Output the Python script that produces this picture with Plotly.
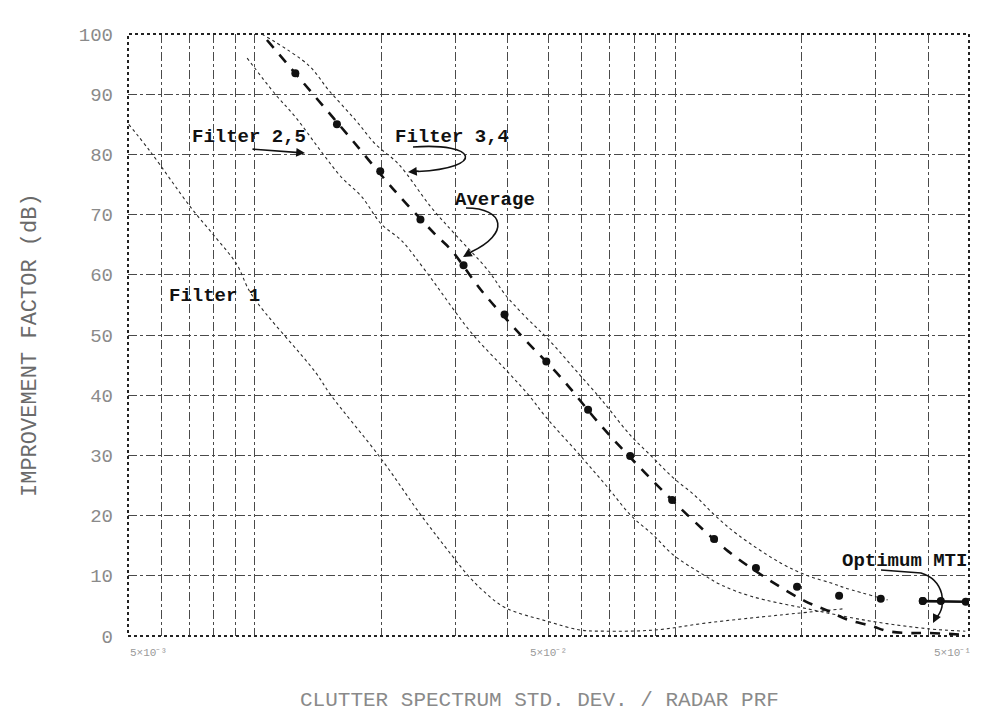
import math
import plotly.graph_objects as go

# ---------------- data ----------------
x_tick_vals = [0.005, 0.006, 0.007, 0.008, 0.009,
               0.01, 0.02, 0.03, 0.04, 0.05, 0.06, 0.07, 0.08, 0.09,
               0.1, 0.2, 0.3, 0.4, 0.5]
x_label_vals = [0.005, 0.05, 0.5]
x_label_text = ["5×10⁻³", "5×10⁻²", "5×10⁻¹"]
y_tick_vals = [0, 10, 20, 30, 40, 50, 60, 70, 80, 90, 100]
y_tick_text = ["0", "10", "20", "30", "40", "50", "60", "70", "80", "90", "100"]

filter1_x = [0.00502, 0.00566, 0.00705, 0.00808, 0.00906, 0.00984, 0.01396, 0.01515,
             0.01992, 0.02492, 0.02937, 0.03223, 0.03497, 0.03946, 0.04938, 0.05945,
             0.06817, 0.08955, 0.1198, 0.1785, 0.25]
filter1_y = [85, 80.4, 71.2, 66.2, 61.8, 56.7, 43.8, 40.1,
             29.6, 20.0, 13.5, 10.0, 7.5, 4.7, 2.5, 1.0,
             0.8, 1.0, 2.2, 3.5, 4.5]

filter25_x = [0.0096, 0.0112, 0.01251, 0.01443, 0.01609, 0.01796, 0.02003, 0.02234,
              0.02547, 0.03275, 0.03946, 0.04477, 0.04938, 0.05945, 0.06929, 0.07855,
              0.08864, 0.0989, 0.1166, 0.1286, 0.1516, 0.207, 0.29, 0.40, 0.49]
filter25_y = [96, 90, 86.2, 80.4, 76.2, 73.0, 68.4, 65.7,
              60.7, 50.4, 44.3, 40.1, 36.3, 30.0, 24.6, 20.0,
              16.8, 13.5, 10.2, 8.5, 6.6, 4.5, 2.5, 1.2, 0.8]

filter34_x = [0.0104, 0.01344, 0.01499, 0.01738, 0.01939, 0.02198, 0.02631, 0.0300,
              0.03595, 0.03946, 0.04426, 0.04992, 0.05945, 0.06561, 0.06929, 0.07816,
              0.08864, 0.0989, 0.1116, 0.1245, 0.1411, 0.1785, 0.207, 0.235, 0.2535, 0.32]
filter34_y = [100, 94.8, 90.7, 85.7, 81.7, 78.4, 71.2, 66.7,
              60.7, 56.7, 52.9, 49.3, 43.3, 39.9, 37.9, 33.4,
              29.6, 26.3, 23.3, 20.0, 16.8, 12.1, 10.0, 8.8, 8.0, 6.0]

dashed_x = [0.0107, 0.01366, 0.0170, 0.02139, 0.02691, 0.02937, 0.03462, 0.04307,
            0.05359, 0.06673, 0.08485, 0.1074, 0.1336, 0.1683, 0.2036, 0.2307,
            0.2576, 0.2922, 0.3205, 0.3575, 0.399, 0.49]
dashed_y = [99, 90.3, 82.5, 74.2, 66.7, 64.1, 57.4, 49.9,
            42.9, 34.9, 27.1, 20.0, 14.1, 9.2, 5.8, 4.2,
            2.7, 1.7, 0.8, 0.5, 0.5, 0.2]

average_x = [0.0125, 0.0157, 0.0199, 0.0248, 0.0314, 0.0393, 0.0494, 0.0621,
             0.0782, 0.0984, 0.1238, 0.1557, 0.1950, 0.2455, 0.3084, 0.3882]
average_y = [93.5, 85.0, 77.2, 69.2, 61.6, 53.4, 45.6, 37.6,
             29.9, 22.6, 16.1, 11.3, 8.2, 6.7, 6.2, 5.8]

optimum_x = [0.3882, 0.4285, 0.4912]
optimum_y = [5.8, 5.8, 5.7]

# ---------------- layout geometry ----------------
W, H = 981, 716
L, R, T, B = 120, 20, 26, 88
PW, PH = W - L - R, H - T - B
XMIN, XMAX = math.log10(0.005), math.log10(0.5)


def P(px, py):
    """pixel position -> paper coordinates (for labels / arrows only)"""
    return (px - L) / PW, (H - B - py) / PH


def path(cmds):
    out = []
    for c in cmds:
        if isinstance(c, str):
            out.append(c)
        else:
            x, y = P(*c)
            out.append(f"{x:.5f},{y:.5f}")
    return " ".join(out)


fig = go.Figure()

thin = dict(color="#2a2a2a", width=1.1, dash="dot")
fig.add_trace(go.Scatter(x=filter1_x, y=filter1_y, mode="lines", line=thin,
                         name="Filter 1", line_shape="spline"))
fig.add_trace(go.Scatter(x=filter25_x, y=filter25_y, mode="lines", line=thin,
                         name="Filter 2,5", line_shape="spline"))
fig.add_trace(go.Scatter(x=filter34_x, y=filter34_y, mode="lines", line=thin,
                         name="Filter 3,4", line_shape="spline"))
fig.add_trace(go.Scatter(x=dashed_x, y=dashed_y, mode="lines",
                         line=dict(color="#111", width=2.6, dash="10px,9px"),
                         name="Optimum MTI", line_shape="spline"))
fig.add_trace(go.Scatter(x=average_x, y=average_y, mode="markers",
                         marker=dict(color="#111", size=8),
                         name="Average"))
fig.add_trace(go.Scatter(x=optimum_x, y=optimum_y, mode="lines+markers",
                         line=dict(color="#111", width=2.6),
                         marker=dict(color="#111", size=8),
                         name="Optimum"))

shapes = [
    dict(type="rect", xref="paper", yref="paper", x0=0, y0=0, x1=1, y1=1,
         line=dict(color="#222", width=2, dash="dot"), layer="above"),
    # curved arrows
    dict(type="path", xref="paper", yref="paper",
         path=path(["M", (405, 139), "C", (470, 134), (478, 160), (410, 163.5)]),
         line=dict(color="#111", width=1.6)),
    dict(type="path", xref="paper", yref="paper",
         path=path(["M", (458, 200), "C", (497, 200), (502, 226), (463, 244)]),
         line=dict(color="#111", width=1.6)),
    dict(type="path", xref="paper", yref="paper",
         path=path(["M", (873, 562), "L", (913, 565), "C", (936, 572), (940, 598), (928, 610)]),
         line=dict(color="#111", width=1.6)),
]

annos = []
mono = "Liberation Mono"
for txt, px, py in [("Filter 2,5", 241, 129), ("Filter 3,4", 444, 129),
                    ("Average", 487, 192), ("Filter 1", 206, 288),
                    ("Optimum MTI", 896, 553)]:
    x, y = P(px, py)
    annos.append(dict(x=x, y=y, xref="paper", yref="paper", text=f"<b>{txt}</b>",
                      xanchor="center", yanchor="middle",
                      showarrow=False, font=dict(family=mono, size=19, color="#111")))

# arrow heads
for hx, hy, ax, ay in [(297, 145, -54, -4), (400, 164, 12, -1),
                       (455, 249, 10, -6), (925, 615, 4, -8)]:
    x, y = P(hx, hy)
    annos.append(dict(x=x, y=y, xref="paper", yref="paper", text="", showarrow=True,
                      ax=ax, ay=ay, arrowhead=2, arrowsize=1.1, arrowwidth=1.6,
                      arrowcolor="#111"))

# x tick labels (placed as in the scan: first one starts at the left edge)
for v, t, anchor, shift in zip(x_label_vals, x_label_text,
                               ["left", "center", "right"], [0, 0, 4]):
    xp = (math.log10(v) - XMIN) / (XMAX - XMIN)
    annos.append(dict(x=xp, y=0, xref="paper", yref="paper", text=t, showarrow=False,
                      xanchor=anchor, yanchor="top", yshift=-9, xshift=shift,
                      font=dict(family=mono, size=11, color="#9a9a9a")))

# axis titles
x, y = P(531, 692)
annos.append(dict(x=x, y=y, xref="paper", yref="paper", xanchor="center", yanchor="middle",
                  text="CLUTTER SPECTRUM STD. DEV. / RADAR PRF", showarrow=False,
                  font=dict(family=mono, size=21, color="#8a8a8a")))
x, y = P(22, 337)
annos.append(dict(x=x, y=y, xref="paper", yref="paper", textangle=-90,
                  xanchor="center", yanchor="middle",
                  text="IMPROVEMENT FACTOR (dB)", showarrow=False,
                  font=dict(family=mono, size=22, color="#6a6a6a")))

grid = dict(showgrid=True, gridcolor="#4a4a4a", gridwidth=1, griddash="dashdot",
            zeroline=False, showline=False, ticks="")

fig.update_layout(
    width=W, height=H,
    margin=dict(l=L, r=R, t=T, b=B, autoexpand=False),
    paper_bgcolor="white", plot_bgcolor="white",
    showlegend=False,
    shapes=shapes,
    annotations=annos,
    xaxis=dict(type="log", range=[XMIN, XMAX],
               tickvals=x_tick_vals, showticklabels=False, **grid),
    yaxis=dict(range=[0, 100], tickvals=y_tick_vals, ticktext=y_tick_text,
               tickfont=dict(family=mono, size=19, color="#8a8a8a"),
               ticklabelstandoff=14, **grid),
)

fig.write_html("out.html")
